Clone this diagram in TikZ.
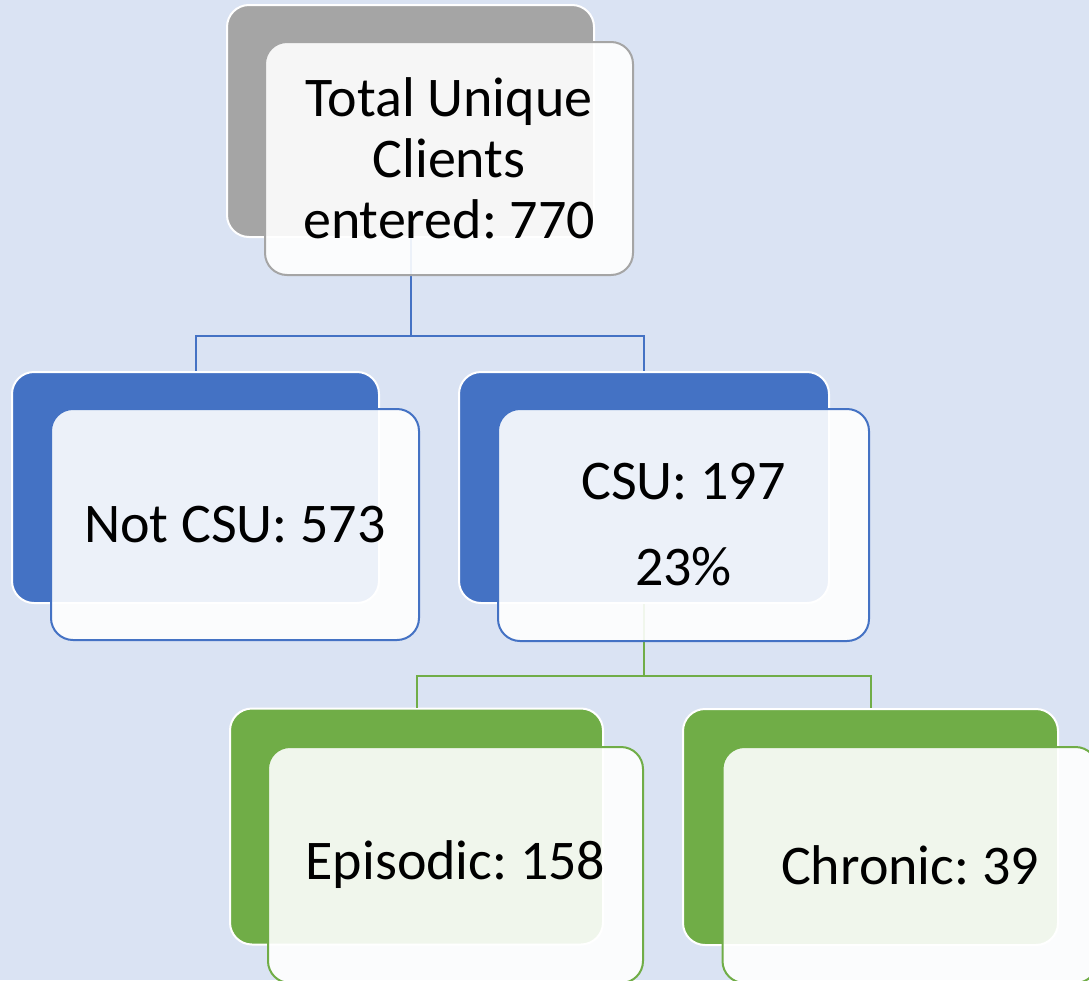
\documentclass[tikz,border=0pt]{standalone}
\usepackage{fontspec}
\setmainfont{Carlito}
\frenchspacing
\definecolor{bg}{HTML}{DAE3F3}
\definecolor{cblue}{HTML}{4472C4}
\definecolor{cgreen}{HTML}{70AD47}
\definecolor{cgray}{HTML}{A5A5A5}
\tikzset{
  backbox/.style={draw=white, line width=2pt, fill=#1, rounded corners=22pt, inner sep=0pt},
  frontbox/.style={draw=#1, line width=2pt, fill=white, fill opacity=0.9, text opacity=1, rounded corners=22pt, inner sep=0pt, align=center, font=\frenchspacing\fontsize{56}{61}\selectfont},
  link/.style={draw=#1, line width=2pt},
}
\begin{document}
\begin{tikzpicture}[x=1pt,y=-1pt]
\useasboundingbox (0,0) rectangle (1089,980);
\clip (0,0) rectangle (1089,980);
\fill[bg] (0,0) rectangle (1089,980);
\coordinate (h1) at (0,336);
\coordinate (h2) at (0,676);
% back boxes
\node[backbox=cgray, minimum width=367pt, minimum height=232pt] (tb) at (410.5,121) {};
\node[backbox=cblue, minimum width=367pt, minimum height=231pt] (nb) at (195.5,487.5) {};
\node[backbox=cblue, minimum width=370pt, minimum height=231pt] (cb) at (644,487.5) {};
\node[backbox=cgreen, minimum width=373pt, minimum height=236pt] (eb) at (416.5,826.5) {};
\node[backbox=cgreen, minimum width=375pt, minimum height=236pt] (chb) at (870.5,827) {};
% connectors
\draw[link=cblue] (tb.south) -- (tb.south |- h1) -| (nb.north);
\draw[link=cblue] (tb.south |- h1) -| (cb.north);
\draw[link=cgreen] (cb.south) -- (cb.south |- h2) -| (eb.north);
\draw[link=cgreen] (cb.south |- h2) -| (chb.north);
% front boxes
\node[frontbox=cgray, minimum width=368pt, minimum height=233pt] (tf) at (449,158.5) {Total Unique\\Clients\\entered: 770};
\node[frontbox=cblue, minimum width=368pt, minimum height=231pt] (nf) at (235,524.5) {Not CSU: 573};
\node[frontbox=cblue, minimum width=371pt, minimum height=232pt] (cf) at (683.5,525) {CSU: 197\\[25pt]23\%};
\node[frontbox=cgreen, minimum width=375pt, minimum height=236pt] (ef) at (455.5,865) {Episodic: 158};
\node[frontbox=cgreen, minimum width=375pt, minimum height=236pt] (chf) at (910,865) {Chronic: 39};
\end{tikzpicture}
\end{document}
